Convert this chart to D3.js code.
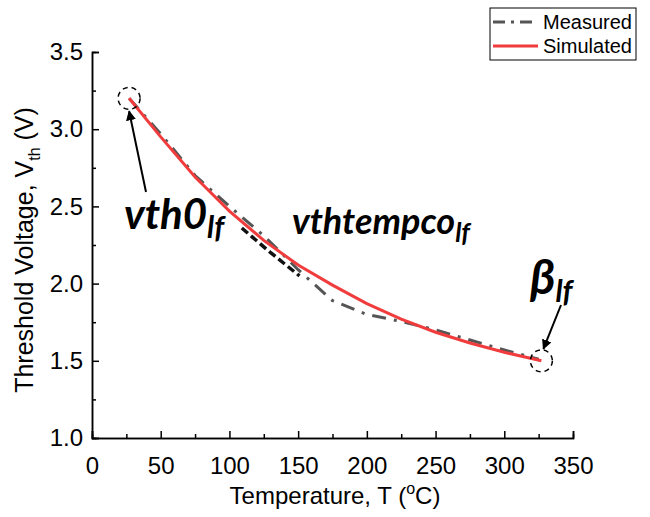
<!DOCTYPE html>
<html>
<head>
<meta charset="utf-8">
<script src="https://cdn.jsdelivr.net/npm/d3@7"></script>
<style>
  body { margin: 0; background: #fff; }
  svg text { font-family: Arial, "Liberation Sans", sans-serif; }
  .anno { font-family: Lato, "Open Sans", sans-serif; font-weight: 700; font-style: italic; }
</style>
</head>
<body>
<div id="chart"></div>
<script>
// temperature (C) and threshold voltage (V)
var measuredT = [27, 50, 75, 100, 125, 150, 175, 200, 225, 250, 275, 300, 325];
var measuredV = [3.20, 2.97, 2.70, 2.50, 2.31, 2.09, 1.89, 1.80, 1.755, 1.70, 1.635, 1.57, 1.51];
var simulatedT = [27, 50, 75, 100, 125, 150, 175, 200, 225, 250, 275, 300, 327];
var simulatedV = [3.20, 2.95, 2.69, 2.47, 2.28, 2.12, 1.99, 1.87, 1.77, 1.685, 1.615, 1.555, 1.50];
// short darker measured piece near 110-150 C
var kinkT = [109, 130, 151];
var kinkV = [2.36, 2.20, 2.05];

var xTicks = [0, 50, 100, 150, 200, 250, 300, 350];
var yTicks = [1.0, 1.5, 2.0, 2.5, 3.0, 3.5];

var width = 650, height = 517;

var svg = d3.select('#chart').append('svg')
    .attr('width', width)
    .attr('height', height);

var x = d3.scaleLinear().domain([0, 350]).range([92, 573]);
var y = d3.scaleLinear().domain([1, 3.5]).range([438, 52]);

// axes, ticks pointing inward
svg.append('g')
    .attr('transform', 'translate(0,' + y(1) + ')')
    .call(d3.axisBottom(x).tickValues(xTicks).tickSize(-7).tickPadding(19).tickFormat(d3.format('d')));
svg.append('g')
    .attr('transform', 'translate(0,' + y(1) + ')')
    .call(d3.axisBottom(x).tickValues(d3.range(25, 350, 50)).tickSize(-4).tickFormat(''));

svg.append('g')
    .attr('transform', 'translate(' + x(0) + ',0)')
    .call(d3.axisLeft(y).tickValues(yTicks).tickSize(-7).tickPadding(9).tickFormat(d3.format('.1f')));
svg.append('g')
    .attr('transform', 'translate(' + x(0) + ',0)')
    .call(d3.axisLeft(y).tickValues(d3.range(1.25, 3.5, 0.5)).tickSize(-4).tickFormat(''));

svg.selectAll('.domain').attr('stroke', '#000').attr('stroke-width', 1.5);
svg.selectAll('.tick line').attr('stroke', '#000').attr('stroke-width', 1.5);
svg.selectAll('.tick text').attr('font-size', 24).attr('fill', '#000')
    .attr('font-family', 'Arial, "Liberation Sans", sans-serif');

// axis titles
svg.append('text')
    .attr('x', 335).attr('y', 504)
    .attr('text-anchor', 'middle')
    .attr('font-size', 24)
    .html('Temperature, T (<tspan dy="-10" font-size="16">o</tspan><tspan dy="10">C)</tspan>');

svg.append('text')
    .attr('transform', 'translate(33,250) rotate(-90)')
    .attr('text-anchor', 'middle')
    .attr('font-size', 25)
    .html('Threshold Voltage, V<tspan dy="7" font-size="16">th</tspan><tspan dy="-7"> (V)</tspan>');

var line = d3.line()
    .x(function(d) { return x(d[0]); })
    .y(function(d) { return y(d[1]); });

var measured = d3.zip(measuredT, measuredV);
var simulated = d3.zip(simulatedT, simulatedV);
var kink = d3.zip(kinkT, kinkV);

svg.append('path')
    .datum(measured)
    .attr('d', line)
    .attr('fill', 'none')
    .attr('stroke', '#555')
    .attr('stroke-width', 3)
    .attr('stroke-dasharray', '14,8,3,8');

svg.append('path')
    .datum(kink)
    .attr('d', line)
    .attr('fill', 'none')
    .attr('stroke', '#111')
    .attr('stroke-width', 3.5)
    .attr('stroke-dasharray', '8,4');

svg.append('path')
    .datum(simulated)
    .attr('d', line)
    .attr('fill', 'none')
    .attr('stroke', '#f03c3c')
    .attr('stroke-width', 3);

// annotations
var defs = svg.append('defs');
defs.append('marker')
    .attr('id', 'arrow')
    .attr('viewBox', '0 0 10 10')
    .attr('refX', 9).attr('refY', 5)
    .attr('markerWidth', 5).attr('markerHeight', 5)
    .attr('orient', 'auto')
  .append('path')
    .attr('d', 'M0,0 L10,5 L0,10 z')
    .attr('fill', '#000');

function ring(t, v) {
  svg.append('circle')
      .attr('cx', x(t)).attr('cy', y(v))
      .attr('r', 11)
      .attr('fill', 'none')
      .attr('stroke', '#000')
      .attr('stroke-width', 1.5)
      .attr('stroke-dasharray', '5,4');
}
ring(simulatedT[0], simulatedV[0]);
ring(simulatedT[simulatedT.length - 1], simulatedV[simulatedV.length - 1]);

svg.append('line')
    .attr('x1', 146).attr('y1', 192)
    .attr('x2', x(simulatedT[0])).attr('y2', y(simulatedV[0]) + 13)
    .attr('stroke', '#000').attr('stroke-width', 2)
    .attr('marker-end', 'url(#arrow)');

svg.append('line')
    .attr('x1', 561).attr('y1', 305)
    .attr('x2', x(327) + 2).attr('y2', y(1.5) - 12)
    .attr('stroke', '#000').attr('stroke-width', 2)
    .attr('marker-end', 'url(#arrow)');

svg.append('text').attr('class', 'anno')
    .attr('x', 124).attr('y', 229)
    .attr('font-size', 42)
    .html('vth0<tspan dy="9" font-size="30">lf</tspan>');

svg.append('text').attr('class', 'anno')
    .attr('x', 292).attr('y', 234)
    .attr('font-size', 36)
    .html('vthtempco<tspan dy="8" font-size="26">lf</tspan>');

svg.append('text').attr('class', 'anno')
    .attr('x', 530).attr('y', 294)
    .attr('font-size', 48)
    .html('β<tspan dy="8" font-size="30">lf</tspan>');

// legend
var lg = svg.append('g');
lg.append('rect')
    .attr('x', 490).attr('y', 8).attr('width', 146).attr('height', 52)
    .attr('fill', '#fff').attr('stroke', '#000').attr('stroke-width', 1);
lg.append('line')
    .attr('x1', 493).attr('x2', 538).attr('y1', 22).attr('y2', 22)
    .attr('stroke', '#555').attr('stroke-width', 3)
    .attr('stroke-dasharray', '12,6,3,6');
lg.append('line')
    .attr('x1', 493).attr('x2', 538).attr('y1', 46).attr('y2', 46)
    .attr('stroke', '#f03c3c').attr('stroke-width', 3);
lg.append('text').attr('x', 543).attr('y', 29).attr('font-size', 20).text('Measured');
lg.append('text').attr('x', 543).attr('y', 53).attr('font-size', 20).text('Simulated');
</script>
</body>
</html>
